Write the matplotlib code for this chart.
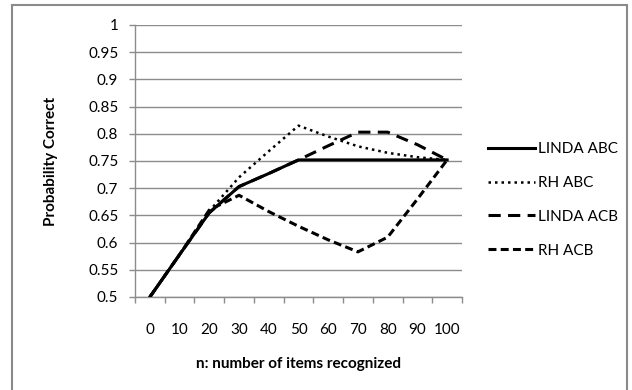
import matplotlib.pyplot as plt
from matplotlib.patches import Rectangle

# Data
n_items = [0, 10, 20, 30, 40, 50, 60, 70, 80, 90, 100]
linda_abc = [0.5, 0.578, 0.655, 0.703, 0.727, 0.752, 0.752, 0.752, 0.752, 0.752, 0.752]
rh_abc = [0.5, 0.578, 0.658, 0.72, 0.768, 0.815, 0.795, 0.777, 0.765, 0.757, 0.752]
linda_acb = [0.5, 0.578, 0.655, 0.703, 0.727, 0.752, 0.778, 0.803, 0.803, 0.78, 0.752]
rh_acb = [0.5, 0.578, 0.66, 0.687, 0.657, 0.63, 0.605, 0.583, 0.61, 0.68, 0.752]

y_ticks = [0.5, 0.55, 0.6, 0.65, 0.7, 0.75, 0.8, 0.85, 0.9, 0.95, 1.0]
y_tick_labels = ["0.5", "0.55", "0.6", "0.65", "0.7", "0.75", "0.8", "0.85", "0.9", "0.95", "1"]

plt.rcParams['font.family'] = ['Lato', 'DejaVu Sans']
fs = 11

W, H = 632, 390
fig = plt.figure(figsize=(W / 100, H / 100), dpi=100)
ax = fig.add_axes([135 / W, 1 - 297 / H, (462 - 135) / W, (297 - 25) / H])

pos = list(range(len(n_items)))
lw = 2.2
ax.plot(pos, linda_abc, color='black', lw=lw, solid_joinstyle='round', label='LINDA ABC', zorder=3)
ax.plot(pos, rh_abc, color='black', lw=1.8, linestyle=(0, (1, 1.6)), dash_capstyle='butt', label='RH ABC', zorder=3)
ax.plot(pos, linda_acb, color='black', lw=lw, linestyle=(0, (4, 2.4)), dash_capstyle='butt', label='LINDA ACB', zorder=3)
ax.plot(pos, rh_acb, color='black', lw=lw, linestyle=(0, (2.6, 1.4)), dash_capstyle='butt', label='RH ACB', zorder=3)

ax.set_xlim(-0.5, len(n_items) - 0.5)
ax.set_ylim(0.5, 1.0)

grid_color = '#8c8c8c'
ax.set_yticks(y_ticks)
ax.set_yticklabels(y_tick_labels, fontsize=fs)
ax.yaxis.grid(True, color=grid_color, lw=1.0)
ax.set_axisbelow(True)

# category axis: labels at centers, tick marks at boundaries
ax.set_xticks(pos)
ax.set_xticklabels([str(v) for v in n_items], fontsize=fs)
ax.set_xticks([p - 0.5 for p in pos] + [len(pos) - 0.5], minor=True)
ax.tick_params(axis='x', which='major', length=0, pad=19)
ax.tick_params(axis='x', which='minor', length=4, color=grid_color, width=1.0)
ax.tick_params(axis='y', length=4, color=grid_color, width=1.0, pad=8)

for side in ['top', 'right']:
    ax.spines[side].set_visible(False)
for side in ['left', 'bottom']:
    ax.spines[side].set_color(grid_color)
    ax.spines[side].set_linewidth(1.0)

ax.set_xlabel('n: number of items recognized', fontsize=fs, fontweight='bold', labelpad=14)
ax.set_ylabel('Probability Correct', fontsize=fs, fontweight='bold', labelpad=22)

fig.legend(loc='upper left', bbox_to_anchor=(488 / W, 1 - 142 / H), frameon=False,
           fontsize=fs, handlelength=3.1, handletextpad=0.15, labelspacing=1.3,
           borderpad=0, borderaxespad=0)

# chart border (bottom edge falls outside the image)
fig.patches.append(Rectangle((12 / W, -0.05), (627 - 12) / W, 1.05 - 5 / H,
                             transform=fig.transFigure, fill=False,
                             edgecolor='#8a8a8a', lw=1.5))

fig.savefig('out.png', dpi=100)
